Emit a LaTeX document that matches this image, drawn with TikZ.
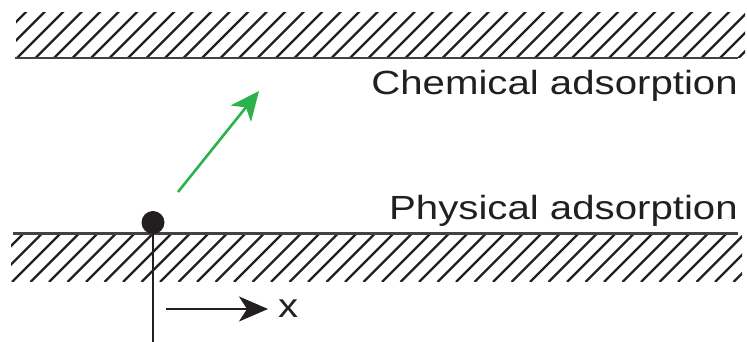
\documentclass[tikz,border=0pt]{standalone}
\usepackage{fontspec}
\setmainfont{Liberation Sans}
\usetikzlibrary{arrows.meta}
\definecolor{ink}{HTML}{231F20}
\definecolor{arrowgreen}{HTML}{2BB24C}
\tikzset{
  hatchline/.style={line width=2.3pt, draw=ink},
  surface/.style={line width=2.6pt, draw=ink!85},
  label/.style={font=\fontsize{33.5}{36}\selectfont, text=ink, inner sep=0pt, xscale=1.2},
  bigtip/.style={-{Stealth[length=29pt,width=25pt,inset=8pt]}},
}
\begin{document}
\begin{tikzpicture}[x=1pt,y=1pt]
\useasboundingbox (0,0) rectangle (747,342);
% top hatched wall
\begin{scope}
\clip (16,329) rectangle (745,284);
\foreach \i in {-3,...,42} \draw[hatchline] ({17+18.5*\i},284) -- ++(50,50);
\end{scope}
\draw[surface] (15,284) -- (738,284);
% bottom hatched wall
\begin{scope}
\clip (11,106) rectangle (742,60);
\foreach \i in {-3,...,42} \draw[hatchline] ({12+18.5*\i},60) -- ++(50,50);
\end{scope}
\draw[surface] (13,108.5) -- (738,108.5);
% labels
\node[label, anchor=base east] (chem) at (738,247) {Chemical adsorption};
\node[label, anchor=base east] (phys) at (738,122) {Physical adsorption};
% particle
\node[circle, fill=ink, minimum size=23pt, inner sep=0pt] (dot) at (153,119.5) {};
\coordinate (bottom) at (153,0);
\draw[line width=2.4pt, draw=ink] (dot.center) -- (bottom);
% x axis arrow
\coordinate (xs) at (166,33);
\coordinate (xe) at (268,33);
\draw[line width=2.2pt, draw=ink, bigtip] (xs) -- (xe);
\node[label, anchor=base west] (xlab) at (278,24) {x};
% green arrow
\coordinate (gs) at (178,150);
\coordinate (ge) at (259,251);
\draw[line width=2.6pt, draw=arrowgreen, -{Stealth[length=29pt,width=26pt,inset=8pt]}] (gs) -- (ge);
\end{tikzpicture}
\end{document}
